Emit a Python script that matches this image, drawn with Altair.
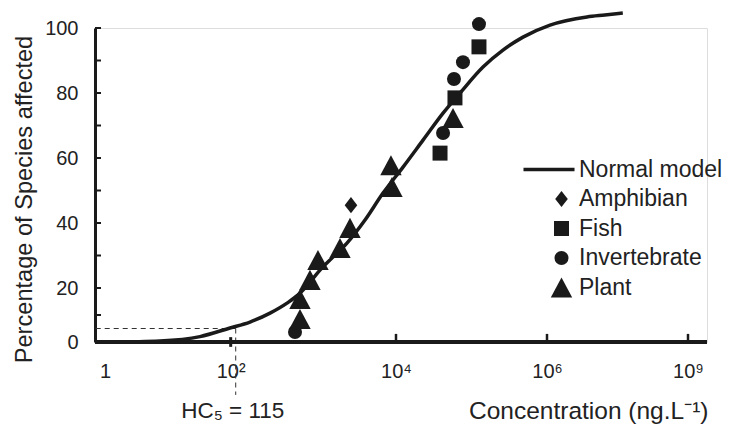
import altair as alt
import pandas as pd

# ---------------- data ----------------
# Fitted normal model (species sensitivity distribution)
curve_conc = [1.2, 7.5, 32.5, 97.5, 171, 299, 480, 689, 910, 1202, 1727, 2551, 4217,
              6966, 12380, 22800, 42000, 70500, 142000, 261000, 481000, 1.16e6,
              7.1e6, 1.7e7, 4.1e7]
curve_pct = [0.0, 0.4, 2.0, 5.2, 7.4, 10.7, 14.4, 18.1, 21.8, 25.5, 29.5, 33.8, 40.9,
             49.2, 57.2, 65.5, 73.8, 80.0, 88.0, 93.2, 97.2, 100.9,
             103.4, 104.0, 104.6]

# Observed species
sp_group = ["Invertebrate", "Plant", "Plant", "Plant", "Plant", "Plant", "Plant",
            "Amphibian", "Plant", "Plant", "Fish", "Invertebrate", "Plant", "Fish",
            "Invertebrate", "Invertebrate", "Fish", "Invertebrate"]
sp_conc = [600, 689, 689, 910, 1137, 2100, 2774, 2852, 8935, 8690, 38300, 42000,
           56900, 60400, 58600, 77100, 125600, 125600]
sp_pct = [3.7, 8.5, 15.9, 22.5, 28.6, 32.3, 38.5, 45.5, 51.1, 57.8, 61.5, 67.7,
          72.3, 78.5, 84.3, 89.5, 94.2, 101.2]

legend_items = ["Normal model", "Amphibian", "Fish", "Invertebrate", "Plant"]

x_tick_values = [1, 1e2, 1e4, 1e6, 1e9]
x_tick_labels = ["1", "10\u00b2", "10\u2074", "10\u2076", "10\u2079"]
y_tick_labels = [0, 20, 40, 60, 80, 100]
y_minor = [0, 10, 20, 30, 40, 50, 60, 70, 80, 90, 100]

hc5_value = 115
hc5_pct = 5
hc5_text = "HC\u2085 = 115"

# ---------------- styling ----------------
FONT = "Liberation Sans, Arial, Helvetica, sans-serif"
INK = "#1a1a1a"
TXT = "#222222"
W, H = 612, 314

curve_df = pd.DataFrame({"conc": curve_conc, "pct": curve_pct})
pts_df = pd.DataFrame({"group": sp_group, "conc": sp_conc, "pct": sp_pct})

# the original axes are hand drawn (uneven spacing) -> piecewise scales
x_scale = alt.Scale(type="log", domain=x_tick_values,
                    range=[10, 135.7, 301, 452, 593], nice=False)
y_scale = alt.Scale(domain=[0, 20, 100], range=[H, 260, 0], nice=False, zero=False)

label_expr = "[{}][indexof([{}], datum.value)]".format(
    ",".join("'" + s + "'" for s in x_tick_labels),
    ",".join(repr(int(v)) for v in x_tick_values))

x_axis = alt.Axis(values=x_tick_values, labelExpr=label_expr, ticks=False, tickSize=0,
                  grid=False, domain=False, labelPadding=19, labelFontSize=20,
                  labelFont=FONT, labelColor=TXT, labelFlush=False, labelOverlap=False,
                  title="Concentration (ng.L\u207b\u00b9)", titleFont=FONT,
                  titleFontSize=24.5, titleFontWeight="normal", titleColor=TXT,
                  titleAnchor="end", titleAlign="right", titleBaseline="alphabetic",
                  titleX=W + 1, titleY=76)
y_axis = alt.Axis(values=y_tick_labels, ticks=False, tickSize=0, grid=False,
                  domainWidth=3, domainColor=INK, labelPadding=17, labelFontSize=20,
                  labelFont=FONT, labelColor=TXT,
                  title="Percentage of Species affected", titleFont=FONT,
                  titleFontSize=23.6, titleFontWeight="normal", titleColor=TXT,
                  titleAngle=270, titleAlign="center", titleBaseline="alphabetic",
                  titleX=-64, titleY=171)

curve = alt.Chart(curve_df).mark_line(color=INK, strokeWidth=3.5, interpolate="monotone").encode(
    x=alt.X("conc:Q", scale=x_scale, axis=x_axis),
    y=alt.Y("pct:Q", scale=y_scale, axis=y_axis),
)

SYM = 196  # common symbol size; shapes are drawn as paths scaled to it
shape_scale = alt.Scale(domain=legend_items, range=[
    "M-5.43,-0.25H1.86V0.25H-5.43Z",            # line sample
    "M0,-1.15L0.9,0L0,1.15L-0.9,0Z",             # diamond
    "M-1.07,-1.07H1.07V1.07H-1.07Z",             # square
    "circle",
    "M0,-1.43L1.53,1.43L-1.53,1.43Z",            # triangle
])

legend = alt.Legend(
    title=None, orient="none", legendX=455, legendY=130, padding=0,
    labelFont=FONT, labelFontSize=23, labelColor=TXT, labelOffset=6, rowPadding=5.5,
    symbolFillColor=INK, symbolOpacity=1, symbolStrokeWidth=0, symbolSize=SYM,
)

points = alt.Chart(pts_df).mark_point(filled=True, opacity=1, color=INK, size=SYM).encode(
    x="conc:Q",
    y="pct:Q",
    shape=alt.Shape("group:N", scale=shape_scale, legend=legend),
)

base_df = pd.DataFrame({"a": [0]})
x_axis_line = alt.Chart(base_df).mark_rule(color=INK, strokeWidth=4).encode(
    x=alt.value(0), x2=alt.value("width"), y=alt.value("height"))

y_ticks = alt.Chart(pd.DataFrame({"v": y_minor})).mark_rule(color=INK, strokeWidth=2).encode(
    y="v:Q", x=alt.value(0), x2=alt.value(6))

x_ticks = alt.Chart(pd.DataFrame({"v": x_tick_values[2:]})).mark_rule(color=INK, strokeWidth=2.5).encode(
    x="v:Q", y=alt.datum(0), y2=alt.datum(3))
x_tick_hc = alt.Chart(pd.DataFrame({"v": [x_tick_values[1]]})).mark_rule(color=INK, strokeWidth=3).encode(
    x="v:Q", y=alt.datum(-1.8), y2=alt.datum(1.8))

hc_df = pd.DataFrame({"conc": [hc5_value], "pct": [hc5_pct], "low": [-19.6], "zero": [0],
                      "txt": [hc5_text]})
hc_h = alt.Chart(hc_df).mark_rule(color="#333333", strokeWidth=1, strokeDash=[5, 4]).encode(
    x="conc:Q", x2=alt.value(0), y="pct:Q")
hc_v = alt.Chart(hc_df).mark_rule(color="#333333", strokeWidth=1, strokeDash=[5, 4]).encode(
    x="conc:Q", y="pct:Q", y2="low:Q")
hc_t = alt.Chart(hc_df).mark_text(font=FONT, fontSize=22.5, color=TXT, baseline="alphabetic",
                                  align="center", dy=76, dx=-3).encode(
    x="conc:Q", y="zero:Q", text="txt:N")

chart = alt.layer(hc_h, hc_v, curve, points, x_axis_line, y_ticks, x_ticks, x_tick_hc, hc_t).properties(
    width=W, height=H,
    autosize="none",
    padding={"left": 87, "top": 20, "right": 18, "bottom": 82},
).configure_view(stroke=None).configure(background="white")

chart.save("out.html", embed_options={"renderer": "svg", "actions": False})
